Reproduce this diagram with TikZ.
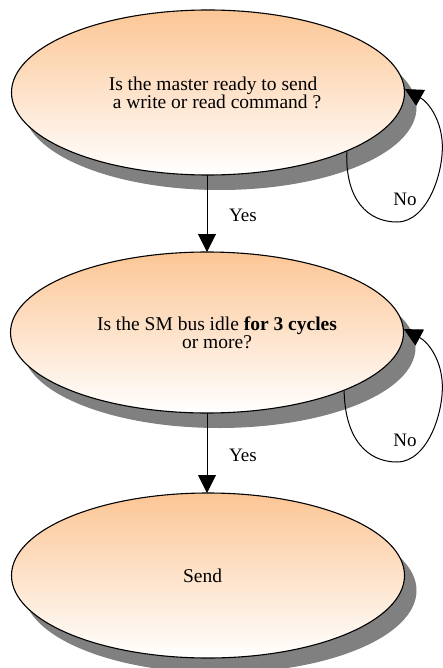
\documentclass[tikz,border=0pt]{standalone}
\usepackage{fontspec}
\setmainfont{Liberation Serif}
\usetikzlibrary{shapes.geometric,shadows,arrows.meta}

\definecolor{peach}{HTML}{FCC695}
\definecolor{shadowgray}{HTML}{808080}

\tikzset{
  state/.style={ellipse, draw=black, line width=1.1pt, inner sep=0pt,
    minimum width=393pt, align=center,
    top color=peach, bottom color=white,
    font=\fontsize{19.5}{18}\selectfont,
    drop shadow={shadow xshift=12pt, shadow yshift=-15pt, fill=shadowgray, opacity=1}},
  flow/.style={line width=1pt, -{Triangle[length=18pt,width=18pt]}},
  lbl/.style={font=\fontsize{19}{19}\selectfont, inner sep=0pt}
}

\begin{document}
\begin{tikzpicture}[x=1pt, y=-1pt]
  \useasboundingbox (0,0) rectangle (443,668);

  % decision and action states
  \node[state, minimum height=165pt] (q1) at (208,92.5)
    {\hspace*{10pt}Is the master ready to send\\ \hspace*{18pt}a write or read command ?};
  \node[state, minimum height=161pt] (q2) at (207,332.5)
    {\hspace*{20pt}Is the SM bus idle \textbf{for 3 cycles}\\ \hspace*{20pt}or more?};
  \node[state, minimum height=165pt] (q3) at (208,575.5) {Send\hspace*{11pt}};

  % forward transitions
  \coordinate (a1) at (207,175);
  \coordinate (b1) at (207,252);
  \coordinate (a2) at (207,413);
  \coordinate (b2) at (207,493);
  \draw[flow] (a1) -- (b1);
  \draw[flow] (a2) -- (b2);
  \node[lbl] (y1) at (243,215) {Yes};
  \node[lbl] (y2) at (243,455) {Yes};

  % waiting loops
  \draw[flow] (q1.-23.6) .. controls (345,200) and (368,222) .. (397,222)
    .. controls (428,222) and (445,170) .. (442,140)
    .. controls (440,118) and (428,102) .. (q1.1);
  \draw[flow] (q2.-23.6) .. controls (345,440) and (368,462) .. (397,462)
    .. controls (428,462) and (445,410) .. (442,380)
    .. controls (440,358) and (428,342) .. (q2.1);
  \node[lbl] (n1) at (405,199) {No};
  \node[lbl] (n2) at (405,440) {No};
\end{tikzpicture}
\end{document}
